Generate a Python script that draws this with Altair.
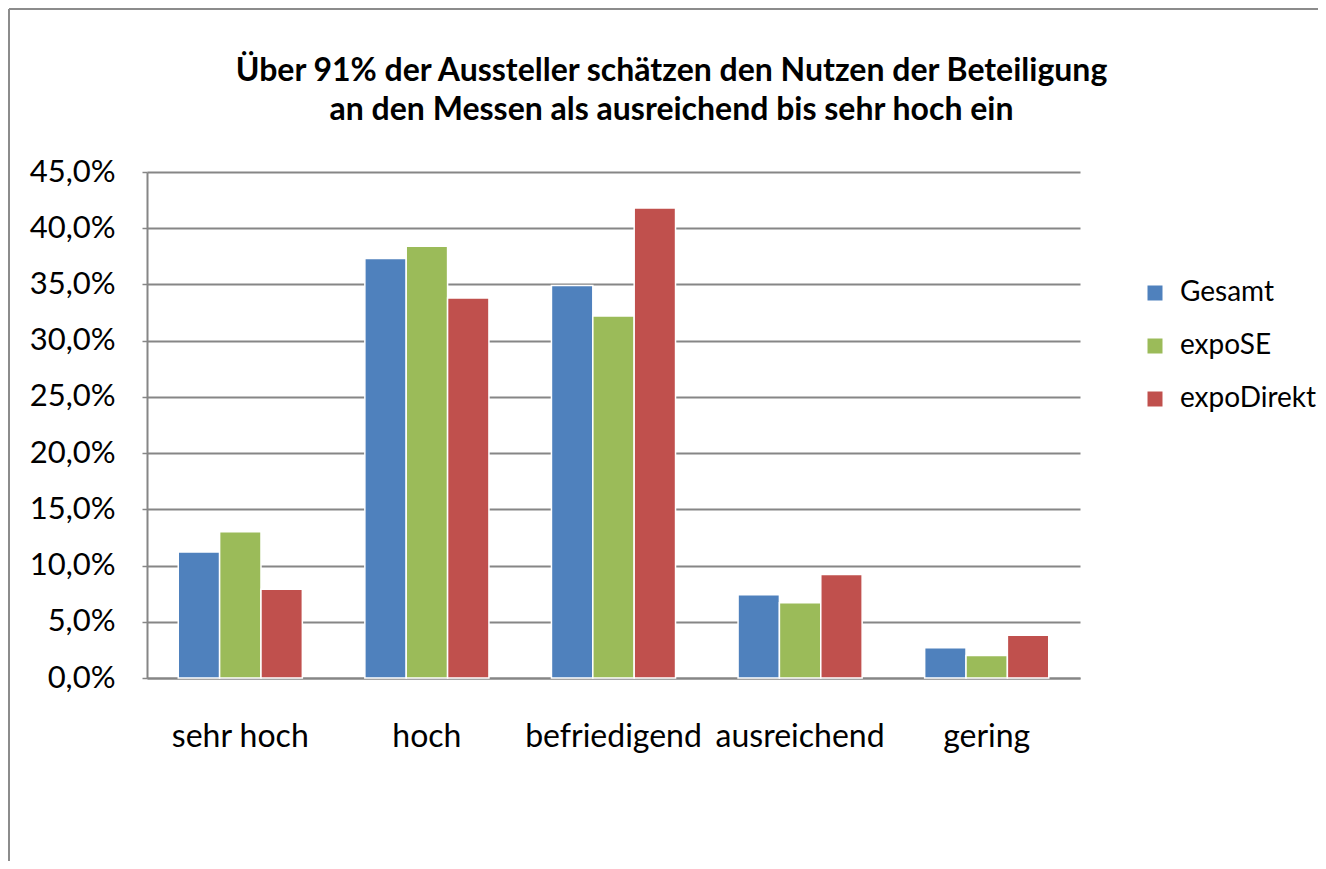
import altair as alt
import pandas as pd

categories = ["sehr hoch", "hoch", "befriedigend", "ausreichend", "gering"]
series = ["Gesamt", "expoSE", "expoDirekt"]
gesamt = [11.2, 37.3, 34.9, 7.4, 2.7]
expose = [13.0, 38.4, 32.2, 6.7, 2.0]
expodirekt = [7.9, 33.8, 41.8, 9.2, 3.8]
colors = ["#4F81BD", "#9BBB59", "#C0504D"]
y_ticks = [0, 5, 10, 15, 20, 25, 30, 35, 40, 45]
title_lines = ["Über 91% der Aussteller schätzen den Nutzen der Beteiligung",
               "an den Messen als ausreichend bis sehr hoch ein"]

rows = []
for name, vals in zip(series, [gesamt, expose, expodirekt]):
    for c, v in zip(categories, vals):
        rows.append({"Kategorie": c, "Serie": name, "Wert": v})
df = pd.DataFrame(rows)

FONT = "Lato"
W, H = 933, 506
PL, PT, PR, PB = 139, 164, 238, 183

bars = alt.Chart(df).mark_bar(stroke="white", strokeWidth=1.5).encode(
    x=alt.X("Kategorie:N", sort=categories, title=None,
            scale=alt.Scale(paddingInner=0.335, paddingOuter=0.1675),
            axis=alt.Axis(labelAngle=0, labelFontSize=32, labelColor="black",
                          labelFont=FONT, labelPadding=43, ticks=False,
                          domainColor="#868686", domainWidth=2, grid=False)),
    xOffset=alt.XOffset("Serie:N", sort=series,
                        scale=alt.Scale(paddingInner=0, paddingOuter=0)),
    y=alt.Y("Wert:Q", title=None,
            scale=alt.Scale(domain=[0, 45], nice=False),
            axis=alt.Axis(values=y_ticks,
                          labelExpr="replace(format(datum.value, '.1f'), '.', ',') + '%'",
                          labelFontSize=31, labelColor="black", labelFont=FONT,
                          labelPadding=27, tickSize=5, tickColor="#868686",
                          tickWidth=1.5, domainColor="#868686", domainWidth=2,
                          grid=True, gridColor="#868686", gridWidth=2)),
    color=alt.Color("Serie:N", sort=series,
                    scale=alt.Scale(domain=series, range=colors),
                    legend=alt.Legend(title=None, orient="none", legendX=994,
                                      legendY=107, symbolType="square",
                                      symbolSize=225, symbolStrokeWidth=0,
                                      labelFontSize=28, labelFont=FONT,
                                      labelColor="black", labelOffset=11,
                                      rowPadding=25)),
)

frame_left = alt.Chart(pd.DataFrame({"a": [0]})).mark_rule(
    color="#8c8c8c", strokeWidth=2).encode(
    x=alt.value(-138), y=alt.value(-163), y2=alt.value(H + PB))
frame_top = alt.Chart(pd.DataFrame({"a": [0]})).mark_rule(
    color="#8c8c8c", strokeWidth=2).encode(
    x=alt.value(-138), x2=alt.value(W + PR), y=alt.value(-163))

chart = alt.layer(bars, frame_left, frame_top).properties(
    width=W, height=H,
    autosize=alt.AutoSizeParams(type="none"),
    padding={"left": PL, "top": PT, "right": PR, "bottom": PB},
    title=alt.TitleParams(text=title_lines, fontSize=32, font=FONT,
                          fontWeight="bold", color="black", anchor="middle",
                          frame="group", dx=58, dy=119, offset=0, lineHeight=39),
).configure_view(stroke=None)

chart.save("out.html", embed_options={"renderer": "svg", "actions": False})
